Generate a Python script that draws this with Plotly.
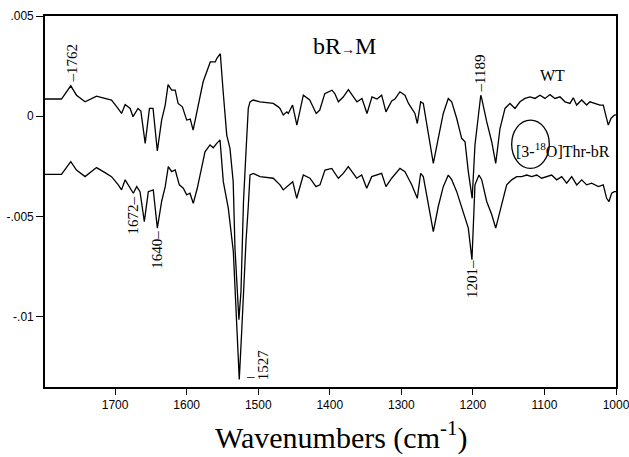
import plotly.graph_objects as go

# Difference spectra (bR -> M), values in units of 1e-3 absorbance
wt_wn = [1798,1775,1762,1754,1742,1735,1726,1717,1705,1696,1691,1686,1679,1675,1668,1664,1658,1652,1647,1641,
         1635,1630,1626,1621,1616,1612,1606,1600,1595,1591,1586,1577,1567,1560,1558,1553,1549,1544,1539.5,1535,
         1532.5,1529.3,1527,1524.1,1522.7,1520.6,1517.1,1513.9,1511.5,1507,1497.5,1479,1472,1469.6,1465,1460,1458,1452,1446,1437,
         1428,1419,1414,1407,1397,1393,1388,1381,1374,1369,1362,1355,1348,1341,1334,1327.5,1321.5,1313.5,1309,1302,
         1295,1290,1285.5,1281,1277.7,1273,1269.3,1264.6,1255.3,1248.4,1241.4,1234.4,1229.6,1222.6,1215.7,1211,1206.4,1201,1197.1,1189,
         1187.7,1180.7,1173.7,1168.1,1162.1,1155.1,1148.2,1141.2,1136.6,1134.2,1127.2,1120.2,1113.2,1106.2,1099.2,1092.3,1085.3,1078.3,1071.3,1064.3,
         1059.7,1055,1048,1041,1036.4,1029.4,1022.4,1017.8,1014.4,1010.8,1007,1002.4,1000]
wt_abs = [0.86,0.86,1.52,1.05,0.72,0.86,1.00,0.92,0.81,0.39,0.14,0.59,0.39,-0.02,0.39,0.26,-1.35,0.39,0.39,-1.73,
          -0.19,0.56,1.58,1.30,1.30,0.64,0.47,-0.19,-0.14,-0.69,0.22,1.72,2.71,2.71,2.88,3.12,1.22,-0.94,-1.60,-3.26,
          -6.58,-8.73,-10.14,-8.73,-6.24,-4.25,-1.77,0.39,0.72,0.81,0.72,0.64,0.47,0.39,0.06,0.22,0.14,0.56,-0.44,1.05,
          0.81,0.14,0.31,1.13,1.30,1.13,0.72,0.97,1.33,1.05,0.72,0.89,0.14,0.97,0.86,1.05,0.22,0.76,0.86,1.22,
          1.05,0.64,0.39,0.14,-0.36,0.72,0.64,-0.36,-2.35,-1.10,0.14,0.89,0.72,-0.11,-1.10,-1.27,-2.76,-4.09,-1.43,1.05,
          0.89,-0.27,-1.27,-2.35,-0.61,0.39,0.64,0.39,0.64,0.72,0.89,0.97,0.89,1.05,0.89,1.08,0.89,0.97,0.72,0.64,
          0.92,0.56,0.81,0.56,0.72,0.64,0.56,0.56,0.06,-0.44,-0.11,0.06,0.07]

thr_wn = [1798,1775,1762,1754,1742,1726,1716.5,1705,1695.6,1691,1686,1681.6,1674.6,1669.8,1665.2,1659.2,1653.6,1646.7,1641,1635,
          1630,1625.7,1621,1616,1610.3,1604.7,1600,1595.4,1590.8,1585.2,1574.4,1567.4,1562.8,1558,1553.4,1548.8,1541.8,1534.8,1530.1,1526.5,
          1523.1,1519.9,1517.1,1513.9,1511.5,1506.9,1497.5,1479,1469.6,1465,1460.2,1451.8,1446.2,1437,1427.7,1419.3,1413.7,1406.7,1397.3,1388.1,
          1381.1,1374.1,1362.4,1355.4,1348.4,1341.4,1327.5,1321.5,1313.5,1301.9,1294.9,1285.5,1277.7,1273,1269.3,1264.6,1255.3,1248.4,1241.4,1234.4,
          1229.6,1222.6,1215.7,1206.4,1201.3,1197.1,1191.5,1187.7,1180.7,1173.7,1168.1,1162.1,1152.8,1145.8,1138.8,1131.8,1124.8,1117.8,1110.8,1103.9,
          1096.9,1089.9,1082.9,1075.9,1068.9,1061.9,1054.9,1047.9,1041,1034,1024.7,1017.8,1013.1,1009.8,1006.1,1002.4,1000]
thr_abs = [-2.90,-2.90,-2.26,-2.68,-3.01,-2.56,-2.76,-3.01,-3.42,-3.67,-3.17,-3.42,-3.84,-3.51,-3.76,-5.25,-3.76,-3.67,-5.58,-4.25,
           -3.51,-2.51,-2.76,-2.68,-3.42,-3.59,-3.92,-3.84,-4.34,-3.59,-1.77,-1.43,-1.57,-1.35,-1.18,-3.26,-4.59,-6.74,-10.72,-13.12,
           -10.72,-7.98,-6.24,-4.50,-2.93,-2.85,-3.01,-3.09,-3.42,-3.67,-3.51,-3.26,-4.09,-2.93,-3.09,-3.51,-3.42,-2.68,-2.60,-3.09,
           -2.85,-2.51,-3.09,-2.93,-3.59,-3.01,-2.85,-3.51,-3.09,-2.60,-2.76,-3.41,-4.09,-2.85,-3.01,-4.00,-5.75,-4.50,-3.51,-2.93,
           -3.16,-3.76,-4.59,-5.58,-7.15,-3.42,-2.93,-3.16,-4.25,-4.90,-5.58,-4.75,-3.42,-3.17,-3.01,-3.01,-2.93,-3.01,-2.93,-3.09,
           -3.01,-2.93,-3.17,-3.01,-3.34,-3.01,-3.42,-3.17,-3.42,-3.34,-3.51,-3.42,-4.09,-4.25,-3.84,-3.76,-3.76]

x_ticks = [1700, 1600, 1500, 1400, 1300, 1200, 1100, 1000]
y_ticks = [5, 0, -5, -10]
y_tick_labels = [".005", "0", "-.005", "-.01"]

serif = "Liberation Serif"
sans = "Liberation Sans"

fig = go.Figure()
fig.add_trace(go.Scatter(x=wt_wn, y=wt_abs, mode="lines", line=dict(color="black", width=1.3),
                         showlegend=False, hoverinfo="skip"))
fig.add_trace(go.Scatter(x=thr_wn, y=thr_abs, mode="lines", line=dict(color="black", width=1.3),
                         showlegend=False, hoverinfo="skip"))

ann_font = dict(family=serif, size=15, color="black")
peak_labels = [
    ("–1762", 1761, 2.66),
    ("–1189", 1190, 2.14),
    ("1672–", 1675, -4.95),
    ("1640–", 1641, -6.64),
    ("1201–", 1201, -8.11),
    ("1527", 1493, -12.4),
]
annotations = []
for txt, x, y in peak_labels:
    annotations.append(dict(text=txt, x=x, y=y, xref="x", yref="y", showarrow=False,
                            textangle=-90, xanchor="center", yanchor="middle", font=ann_font))
annotations.append(dict(text="–", x=1511, y=-12.95, xref="x", yref="y", showarrow=False,
                        xanchor="center", yanchor="middle", font=ann_font))
annotations.append(dict(text="bR<span style='font-size:14px'>→</span>M", x=1379, y=3.51, xref="x", yref="y",
                        showarrow=False, xanchor="center", yanchor="middle",
                        font=dict(family=serif, size=24, color="black")))
annotations.append(dict(text="WT", x=1089, y=2.04, xref="x", yref="y", showarrow=False,
                        xanchor="center", yanchor="middle", font=dict(family=serif, size=16, color="black")))
annotations.append(dict(text="[3-<sup>18</sup>O]Thr-bR", x=1074, y=-1.67, xref="x", yref="y", showarrow=False,
                        xanchor="center", yanchor="middle", font=dict(family=serif, size=16, color="black")))
annotations.append(dict(text="Wavenumbers (cm<sup>-1</sup>)", x=0.52, y=-0.132, xref="paper", yref="paper",
                        showarrow=False, xanchor="center", yanchor="middle",
                        font=dict(family=serif, size=30, color="black")))

fig.add_shape(type="circle", xref="x", yref="y", x0=1145.8, x1=1093.2, y0=-2.60, y1=-0.19,
              line=dict(color="black", width=1.3))

fig.update_layout(
    width=629, height=457,
    margin=dict(l=45, r=13, t=16, b=70),
    paper_bgcolor="white", plot_bgcolor="white",
    hovermode=False,
    annotations=annotations,
    xaxis=dict(range=[1798, 1000], tickvals=x_ticks, ticks="outside", ticklen=6, tickwidth=1.2,
               tickcolor="black", showline=True, linecolor="black", linewidth=1.6, mirror=True,
               showgrid=False, zeroline=False, automargin=False, ticklabeloverflow="allow",
               tickfont=dict(family=sans, size=12, color="black")),
    yaxis=dict(range=[-13.5, 5.0], tickvals=y_ticks, ticktext=y_tick_labels, ticks="outside", ticklen=7,
               tickwidth=1.2, tickcolor="black", showline=True, linecolor="black", linewidth=1.6, mirror=True,
               showgrid=False, zeroline=False, automargin=False, ticklabeloverflow="allow",
               tickfont=dict(family=sans, size=12, color="black")),
)

fig.write_html("out.html", config={"displayModeBar": False},
               post_script="document.body.style.margin='0';document.body.style.overflow='hidden';")
